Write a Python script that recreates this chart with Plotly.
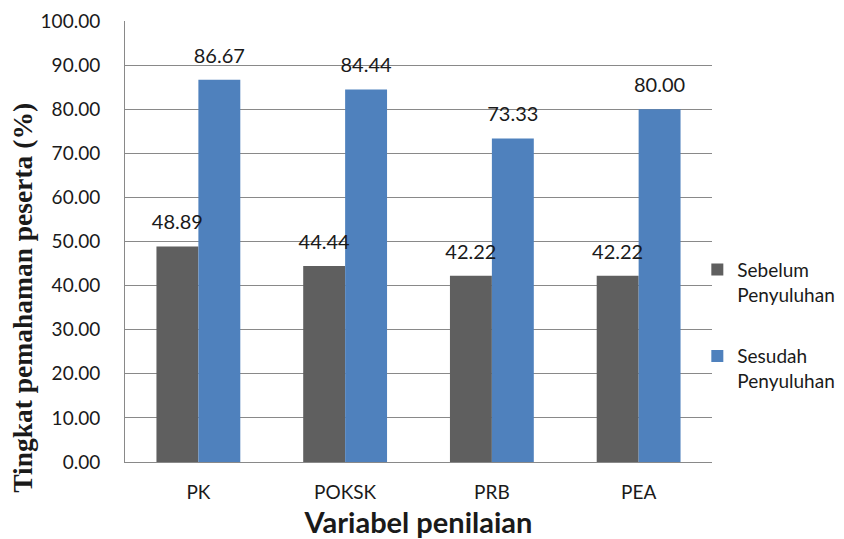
import plotly.graph_objects as go

categories = ["PK", "POKSK", "PRB", "PEA"]
sebelum = [48.89, 44.44, 42.22, 42.22]
sesudah = [86.67, 84.44, 73.33, 80.00]
series_names = ["Sebelum<br>Penyuluhan", "Sesudah<br>Penyuluhan"]
y_ticks = [0, 10, 20, 30, 40, 50, 60, 70, 80, 90, 100]

FONT = "Lato, 'Open Sans', sans-serif"
GAP = 0.4286

fig = go.Figure()
for vals, name, color, grp in [(sebelum, series_names[0], "#5f5f5f", "a"),
                               (sesudah, series_names[1], "#4f81bd", "b")]:
    fig.add_trace(go.Bar(
        x=categories, y=vals, name=name, legendgroup=grp, offsetgroup=grp,
        marker=dict(color=color, line=dict(width=0)),
        hovertemplate="%{x}: %{y:.2f}<extra></extra>",
    ))
for vals, grp in [(sebelum, "a"), (sesudah, "b")]:
    fig.add_trace(go.Scatter(
        x=categories, y=vals, mode="markers+text", offsetgroup=grp,
        text=[f"{v:.2f}" for v in vals], textposition="top center",
        textfont=dict(size=20, color="#1a1a1a", family=FONT),
        marker=dict(size=18, opacity=0), showlegend=False, hoverinfo="skip",
        cliponaxis=False,
    ))

fig.update_layout(
    width=844, height=539,
    margin=dict(l=125, r=132, t=21, b=77, autoexpand=False),
    paper_bgcolor="white", plot_bgcolor="white",
    barmode="group", bargap=GAP, bargroupgap=0,
    scattermode="group", scattergap=GAP,
    font=dict(family=FONT, size=19, color="#1a1a1a"),
    showlegend=True,
    legend=dict(x=0.975, xanchor="left", y=0.479, yanchor="top",
                font=dict(size=19, family=FONT, color="#1a1a1a"),
                valign="top", tracegroupgap=34, itemwidth=30,
                bgcolor="rgba(0,0,0,0)"),
    xaxis=dict(
        automargin=False,
        showgrid=False, showline=True, linecolor="#898989", linewidth=1,
        ticks="", ticklabelstandoff=13,
        tickfont=dict(size=19, family=FONT),
        title=dict(text="<b>Variabel penilaian</b>", standoff=15,
                   font=dict(size=29, family=FONT, color="#1a1a1a")),
    ),
    yaxis=dict(
        automargin=False,
        range=[0, 100], tickvals=y_ticks, tickformat=".2f",
        showgrid=True, gridcolor="#898989", gridwidth=1,
        showline=True, linecolor="#898989", linewidth=1,
        zeroline=False, ticks="", ticklabelstandoff=20,
        tickfont=dict(size=19, family=FONT),
    ),
    annotations=[dict(
        text="<b>Tingkat pemahaman peserta (%)</b>", textangle=-90,
        xref="paper", yref="paper", x=-0.174, y=0.372,
        xanchor="center", yanchor="middle", showarrow=False,
        font=dict(size=27.5, family="'Liberation Serif', 'Times New Roman', serif",
                  color="#1a1a1a"),
    )],
)

fig.write_html("out.html", config={"displayModeBar": False},
               post_script="document.body.style.margin='0';document.body.style.padding='0';")
